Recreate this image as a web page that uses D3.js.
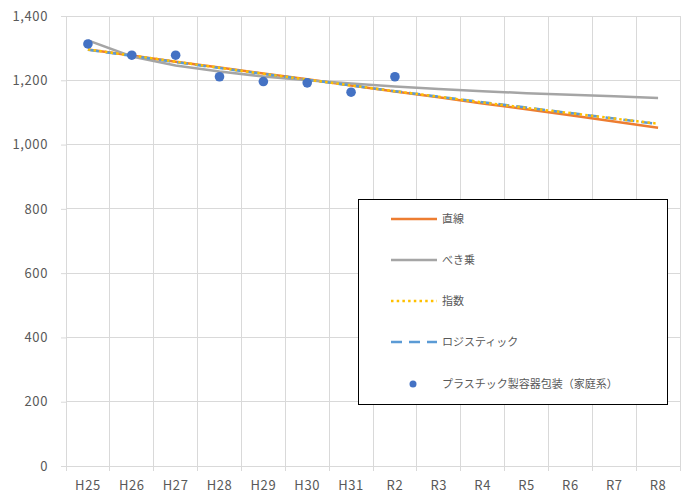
<!DOCTYPE html>
<html>
<head>
<meta charset="utf-8">
<script src="https://cdn.jsdelivr.net/npm/d3@7"></script>
<style>
  html, body { margin: 0; padding: 0; background: #fff; }
  svg { display: block; }
</style>
</head>
<body>
<svg id="chart" width="685" height="493"></svg>
<script>
// Fiscal years on the category axis
const years = ["H25","H26","H27","H28","H29","H30","H31","R2","R3","R4","R5","R6","R7","R8"];

// Observed amounts: プラスチック製容器包装（家庭系）
const observed = [1313, 1278, 1278, 1211, 1196, 1192, 1163, 1211];

// Trend projections for each year
const linearTrend   = [1296, 1277, 1258, 1240, 1221, 1203, 1184, 1165, 1147, 1128, 1110, 1091, 1072, 1052];
const powerTrend    = [1324, 1274, 1246, 1227, 1212, 1200, 1190, 1181, 1173, 1166, 1160, 1155, 1150, 1145];
const expTrend      = [1296, 1277, 1258, 1239, 1220, 1202, 1184, 1166, 1149, 1131, 1114, 1098, 1081, 1065];
const logisticTrend = [1295, 1276, 1257, 1238, 1220, 1202, 1184, 1166, 1149, 1132, 1115, 1098, 1081, 1064];

const yTicks = [0, 200, 400, 600, 800, 1000, 1200, 1400];

const svg = d3.select("#chart");
const margin = { left: 66, right: 5, top: 16, bottom: 27 };
const W = 685, H = 493;

const x = d3.scaleBand().domain(years).range([margin.left, W - margin.right]).padding(0);
const y = d3.scaleLinear().domain([0, 1400]).range([H - margin.bottom, margin.top]);
const cx = d => x(d) + x.bandwidth() / 2;

const labelFont = "'Noto Sans CJK JP', 'Noto Sans', sans-serif";
const textColor = "#595959";
const gridColor = "#d9d9d9";

// Horizontal gridlines
svg.append("g")
  .selectAll("line")
  .data(yTicks.filter(v => v > 0))
  .join("line")
  .attr("x1", margin.left).attr("x2", W - margin.right)
  .attr("y1", d => y(d)).attr("y2", d => y(d))
  .attr("stroke", gridColor).attr("stroke-width", 1)
  .attr("shape-rendering", "crispEdges");

// Vertical gridlines at category boundaries
const bounds = years.map(d => x(d)).concat([x(years[years.length - 1]) + x.bandwidth()]);
svg.append("g")
  .selectAll("line")
  .data(bounds.slice(1))
  .join("line")
  .attr("x1", d => d).attr("x2", d => d)
  .attr("y1", y(1400)).attr("y2", y(0))
  .attr("stroke", gridColor).attr("stroke-width", 1)
  .attr("shape-rendering", "crispEdges");

// Y axis
const yAxis = svg.append("g")
  .attr("transform", `translate(${margin.left},0)`)
  .call(d3.axisLeft(y).tickValues(yTicks).tickFormat(d3.format(",")).tickSizeOuter(0).tickSize(5).tickPadding(13));
yAxis.select(".domain").attr("stroke", gridColor);
yAxis.selectAll(".tick line").attr("stroke", gridColor);
yAxis.selectAll("text")
  .attr("fill", textColor)
  .style("font-family", labelFont).style("font-size", "13px").style("letter-spacing", "0.6px");

// X axis
const xAxis = svg.append("g")
  .attr("transform", `translate(0,${y(0)})`)
  .call(d3.axisBottom(x).tickSize(0).tickPadding(15));
xAxis.select(".domain").attr("stroke", gridColor);
xAxis.selectAll("text")
  .attr("fill", textColor)
  .style("font-family", labelFont).style("font-size", "13px").style("letter-spacing", "0.6px");
svg.append("g")
  .selectAll("line")
  .data(bounds)
  .join("line")
  .attr("x1", d => d).attr("x2", d => d)
  .attr("y1", y(0)).attr("y2", y(0) + 5)
  .attr("stroke", gridColor)
  .attr("shape-rendering", "crispEdges");

// Trend lines
const line = d3.line().x((d, i) => cx(years[i])).y(d => y(d));
const series = [
  { name: "直線", values: linearTrend, color: "#ED7D31", dash: null },
  { name: "べき乗", values: powerTrend, color: "#A5A5A5", dash: null },
  { name: "ロジスティック", values: logisticTrend, color: "#5B9BD5", dash: "11 7" },
  { name: "指数", values: expTrend, color: "#FFC000", dash: "2.5 3.2" }
];
series.forEach(s => {
  svg.append("path")
    .datum(s.values)
    .attr("d", line)
    .attr("fill", "none")
    .attr("stroke", s.color)
    .attr("stroke-width", 2.5)
    .attr("stroke-dasharray", s.dash);
});

// Observed points
svg.append("g")
  .selectAll("circle")
  .data(observed)
  .join("circle")
  .attr("cx", (d, i) => cx(years[i]))
  .attr("cy", d => y(d))
  .attr("r", 4.8)
  .attr("fill", "#4472C4");

// Legend
const lg = svg.append("g");
lg.append("rect")
  .attr("x", 358.5).attr("y", 199.5).attr("width", 309).attr("height", 205)
  .attr("fill", "#fff").attr("stroke", "#000").attr("stroke-width", 1);

const legendItems = [
  { label: "直線", color: "#ED7D31", dash: null, type: "line" },
  { label: "べき乗", color: "#A5A5A5", dash: null, type: "line" },
  { label: "指数", color: "#FFC000", dash: "2.5 3.2", type: "line" },
  { label: "ロジスティック", color: "#5B9BD5", dash: "11 7", type: "line" },
  { label: "プラスチック製容器包装（家庭系）", color: "#4472C4", type: "dot" }
];
const rowY = [219, 260, 301, 342, 384];
legendItems.forEach((it, i) => {
  const yy = rowY[i];
  if (it.type === "line") {
    lg.append("line")
      .attr("x1", 391).attr("x2", 437).attr("y1", yy).attr("y2", yy)
      .attr("stroke", it.color).attr("stroke-width", 2.5)
      .attr("stroke-dasharray", it.dash);
  } else {
    lg.append("circle").attr("cx", 413).attr("cy", yy).attr("r", 3.5).attr("fill", it.color);
  }
  lg.append("text")
    .attr("x", 442).attr("y", yy)
    .attr("dy", "0.35em")
    .attr("fill", textColor)
    .style("font-family", "'Noto Sans CJK JP', sans-serif")
    .style("font-size", "11px")
    .text(it.label);
});
</script>
</body>
</html>
